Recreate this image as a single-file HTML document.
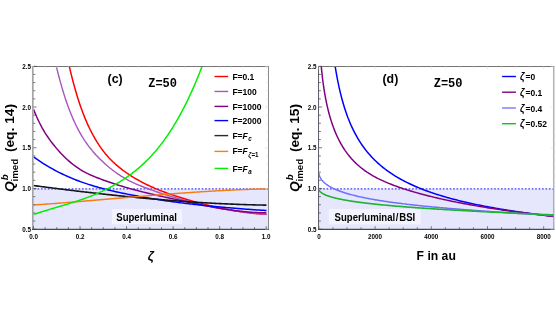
<!DOCTYPE html>
<html><head><meta charset="utf-8"><title>plot</title>
<style>
html,body{margin:0;padding:0;background:#fff;}
body{width:556px;height:327px;overflow:hidden;}
svg{display:block;will-change:transform;}
text{font-family:"Liberation Sans",sans-serif;font-weight:bold;fill:#000;}
.bi{font-style:italic;}
.sub{font-style:italic;font-size:7px;}
.subn{font-size:7px;}
.zl{font-style:italic;font-size:10.5px;}
.mono{font-family:"Liberation Mono",monospace;}
</style></head><body>
<svg width="556" height="327" viewBox="0 0 556 327">
<rect width="556" height="327" fill="#fff"/>
<!-- LEFT PANEL -->
<g fill="none">
<rect x="33.30" y="188.90" width="235.00" height="40.30" fill="#e6e6fd"/><path d="M34.10,188.90 H268.30" stroke="#7272f6" stroke-width="1.8" stroke-dasharray="1.7 1.72"/>
<clipPath id="cl"><rect x="33.3" y="66.3" width="235.0" height="162.89999999999998"/></clipPath>
<g clip-path="url(#cl)" stroke-linejoin="round" fill="none">
<path d="M69.40,66.85 L70.64,72.06 L71.88,77.04 L73.12,81.82 L74.36,86.39 L75.60,90.76 L76.84,94.94 L78.08,98.93 L79.32,102.75 L80.56,106.39 L81.80,109.87 L83.04,113.20 L84.28,116.37 L85.52,119.40 L86.75,122.30 L87.99,125.07 L89.23,127.71 L90.47,130.25 L91.71,132.67 L92.95,134.99 L94.19,137.22 L95.43,139.36 L96.67,141.42 L97.91,143.39 L99.15,145.29 L100.39,147.11 L101.63,148.86 L102.87,150.54 L104.11,152.15 L105.35,153.69 L106.59,155.17 L107.83,156.60 L109.07,157.96 L110.31,159.28 L111.55,160.54 L112.79,161.75 L114.03,162.92 L115.27,164.05 L116.51,165.14 L117.75,166.19 L118.98,167.20 L120.22,168.19 L121.46,169.14 L122.70,170.07 L123.94,170.98 L125.18,171.87 L126.42,172.74 L127.66,173.59 L128.90,174.42 L130.14,175.23 L131.38,176.03 L132.62,176.81 L133.86,177.57 L135.10,178.32 L136.34,179.05 L137.58,179.76 L138.82,180.46 L140.06,181.15 L141.30,181.82 L142.54,182.47 L143.78,183.12 L145.02,183.75 L146.26,184.36 L147.50,184.96 L148.74,185.55 L149.98,186.13 L151.22,186.70 L152.45,187.25 L153.69,187.80 L154.93,188.33 L156.17,188.85 L157.41,189.37 L158.65,189.87 L159.89,190.37 L161.13,190.85 L162.37,191.33 L163.61,191.80 L164.85,192.26 L166.09,192.71 L167.33,193.16 L168.57,193.59 L169.81,194.03 L171.05,194.45 L172.29,194.87 L173.53,195.29 L174.77,195.70 L176.01,196.10 L177.25,196.51 L178.49,196.90 L179.73,197.30 L180.97,197.69 L182.21,198.07 L183.45,198.45 L184.68,198.83 L185.92,199.21 L187.16,199.58 L188.40,199.95 L189.64,200.31 L190.88,200.68 L192.12,201.03 L193.36,201.39 L194.60,201.74 L195.84,202.08 L197.08,202.42 L198.32,202.76 L199.56,203.09 L200.80,203.42 L202.04,203.75 L203.28,204.07 L204.52,204.39 L205.76,204.70 L207.00,205.01 L208.24,205.32 L209.48,205.62 L210.72,205.92 L211.96,206.21 L213.20,206.50 L214.44,206.78 L215.68,207.06 L216.92,207.34 L218.15,207.61 L219.39,207.88 L220.63,208.14 L221.87,208.40 L223.11,208.65 L224.35,208.90 L225.59,209.14 L226.83,209.38 L228.07,209.61 L229.31,209.84 L230.55,210.07 L231.79,210.29 L233.03,210.51 L234.27,210.72 L235.51,210.92 L236.75,211.12 L237.99,211.32 L239.23,211.51 L240.47,211.70 L241.71,211.88 L242.95,212.05 L244.19,212.22 L245.43,212.39 L246.67,212.55 L247.91,212.71 L249.15,212.86 L250.38,213.00 L251.62,213.14 L252.86,213.28 L254.10,213.40 L255.34,213.53 L256.58,213.65 L257.82,213.76 L259.06,213.87 L260.30,213.97 L261.54,214.07 L262.78,214.16 L264.02,214.24 L265.26,214.32 L266.50,214.40" stroke="#ff0000" stroke-width="1.5"/>
<path d="M56.30,66.32 L57.62,71.67 L58.94,76.79 L60.27,81.68 L61.59,86.36 L62.91,90.82 L64.23,95.09 L65.55,99.16 L66.88,103.03 L68.20,106.73 L69.52,110.26 L70.84,113.61 L72.16,116.81 L73.49,119.85 L74.81,122.75 L76.13,125.51 L77.45,128.14 L78.77,130.65 L80.10,133.04 L81.42,135.32 L82.74,137.50 L84.06,139.59 L85.38,141.58 L86.71,143.49 L88.03,145.32 L89.35,147.07 L90.67,148.76 L91.99,150.38 L93.32,151.94 L94.64,153.45 L95.96,154.91 L97.28,156.33 L98.60,157.71 L99.93,159.05 L101.25,160.35 L102.57,161.62 L103.89,162.85 L105.21,164.05 L106.54,165.21 L107.86,166.34 L109.18,167.44 L110.50,168.51 L111.82,169.55 L113.15,170.56 L114.47,171.54 L115.79,172.50 L117.11,173.42 L118.43,174.32 L119.76,175.20 L121.08,176.05 L122.40,176.87 L123.72,177.66 L125.04,178.44 L126.37,179.18 L127.69,179.90 L129.01,180.60 L130.33,181.28 L131.65,181.93 L132.98,182.56 L134.30,183.17 L135.62,183.77 L136.94,184.35 L138.26,184.91 L139.59,185.45 L140.91,185.99 L142.23,186.51 L143.55,187.02 L144.87,187.53 L146.20,188.02 L147.52,188.52 L148.84,189.00 L150.16,189.48 L151.48,189.96 L152.81,190.43 L154.13,190.90 L155.45,191.36 L156.77,191.82 L158.09,192.27 L159.42,192.72 L160.74,193.16 L162.06,193.60 L163.38,194.04 L164.71,194.47 L166.03,194.89 L167.35,195.31 L168.67,195.73 L169.99,196.14 L171.32,196.55 L172.64,196.95 L173.96,197.35 L175.28,197.75 L176.60,198.13 L177.93,198.52 L179.25,198.90 L180.57,199.28 L181.89,199.65 L183.21,200.01 L184.54,200.38 L185.86,200.73 L187.18,201.09 L188.50,201.44 L189.82,201.78 L191.15,202.12 L192.47,202.45 L193.79,202.79 L195.11,203.11 L196.43,203.43 L197.76,203.75 L199.08,204.06 L200.40,204.37 L201.72,204.68 L203.04,204.98 L204.37,205.27 L205.69,205.56 L207.01,205.85 L208.33,206.13 L209.65,206.41 L210.98,206.68 L212.30,206.95 L213.62,207.21 L214.94,207.47 L216.26,207.73 L217.59,207.98 L218.91,208.23 L220.23,208.47 L221.55,208.71 L222.87,208.94 L224.20,209.17 L225.52,209.39 L226.84,209.61 L228.16,209.83 L229.48,210.04 L230.81,210.25 L232.13,210.45 L233.45,210.65 L234.77,210.84 L236.09,211.03 L237.42,211.22 L238.74,211.40 L240.06,211.58 L241.38,211.75 L242.70,211.92 L244.03,212.08 L245.35,212.24 L246.67,212.40 L247.99,212.55 L249.31,212.70 L250.64,212.84 L251.96,212.98 L253.28,213.11 L254.60,213.24 L255.92,213.37 L257.25,213.49 L258.57,213.61 L259.89,213.72 L261.21,213.83 L262.53,213.93 L263.86,214.04 L265.18,214.13 L266.50,214.22" stroke="#a855c0" stroke-width="1.4"/>
<path d="M33.50,109.21 L34.97,112.85 L36.43,116.27 L37.90,119.49 L39.36,122.53 L40.83,125.39 L42.29,128.08 L43.76,130.63 L45.22,133.04 L46.69,135.33 L48.15,137.51 L49.62,139.58 L51.08,141.57 L52.55,143.49 L54.02,145.34 L55.48,147.14 L56.95,148.88 L58.41,150.56 L59.88,152.19 L61.34,153.77 L62.81,155.29 L64.27,156.76 L65.74,158.18 L67.20,159.55 L68.67,160.86 L70.14,162.13 L71.60,163.34 L73.07,164.51 L74.53,165.63 L76.00,166.70 L77.46,167.72 L78.93,168.70 L80.39,169.63 L81.86,170.52 L83.32,171.36 L84.79,172.16 L86.25,172.92 L87.72,173.64 L89.19,174.33 L90.65,174.99 L92.12,175.63 L93.58,176.24 L95.05,176.84 L96.51,177.43 L97.98,178.01 L99.44,178.57 L100.91,179.13 L102.37,179.68 L103.84,180.22 L105.31,180.75 L106.77,181.28 L108.24,181.79 L109.70,182.30 L111.17,182.80 L112.63,183.29 L114.10,183.77 L115.56,184.25 L117.03,184.72 L118.49,185.18 L119.96,185.64 L121.42,186.09 L122.89,186.53 L124.36,186.96 L125.82,187.39 L127.29,187.81 L128.75,188.23 L130.22,188.64 L131.68,189.05 L133.15,189.45 L134.61,189.84 L136.08,190.23 L137.54,190.62 L139.01,191.00 L140.47,191.37 L141.94,191.74 L143.41,192.11 L144.87,192.47 L146.34,192.83 L147.80,193.18 L149.27,193.53 L150.73,193.88 L152.20,194.22 L153.66,194.57 L155.13,194.90 L156.59,195.24 L158.06,195.57 L159.53,195.90 L160.99,196.23 L162.46,196.56 L163.92,196.88 L165.39,197.20 L166.85,197.52 L168.32,197.84 L169.78,198.16 L171.25,198.48 L172.71,198.79 L174.18,199.11 L175.64,199.42 L177.11,199.74 L178.58,200.05 L180.04,200.36 L181.51,200.68 L182.97,200.99 L184.44,201.30 L185.90,201.61 L187.37,201.93 L188.83,202.24 L190.30,202.55 L191.76,202.85 L193.23,203.16 L194.69,203.46 L196.16,203.77 L197.63,204.07 L199.09,204.37 L200.56,204.66 L202.02,204.96 L203.49,205.25 L204.95,205.54 L206.42,205.82 L207.88,206.11 L209.35,206.38 L210.81,206.66 L212.28,206.93 L213.75,207.20 L215.21,207.46 L216.68,207.72 L218.14,207.98 L219.61,208.23 L221.07,208.48 L222.54,208.72 L224.00,208.96 L225.47,209.19 L226.93,209.41 L228.40,209.63 L229.86,209.85 L231.33,210.06 L232.80,210.26 L234.26,210.46 L235.73,210.65 L237.19,210.83 L238.66,211.01 L240.12,211.18 L241.59,211.34 L243.05,211.50 L244.52,211.65 L245.98,211.79 L247.45,211.92 L248.92,212.05 L250.38,212.17 L251.85,212.28 L253.31,212.38 L254.78,212.47 L256.24,212.55 L257.71,212.63 L259.17,212.70 L260.64,212.75 L262.10,212.80 L263.57,212.84 L265.03,212.87 L266.50,212.88" stroke="#800080" stroke-width="1.5"/>
<path d="M33.50,156.85 L34.97,157.90 L36.43,158.93 L37.90,159.94 L39.36,160.93 L40.83,161.89 L42.29,162.84 L43.76,163.77 L45.22,164.68 L46.69,165.58 L48.15,166.45 L49.62,167.31 L51.08,168.15 L52.55,168.97 L54.02,169.77 L55.48,170.56 L56.95,171.33 L58.41,172.08 L59.88,172.82 L61.34,173.54 L62.81,174.25 L64.27,174.94 L65.74,175.61 L67.20,176.27 L68.67,176.92 L70.14,177.55 L71.60,178.17 L73.07,178.78 L74.53,179.37 L76.00,179.95 L77.46,180.52 L78.93,181.07 L80.39,181.61 L81.86,182.14 L83.32,182.66 L84.79,183.16 L86.25,183.66 L87.72,184.14 L89.19,184.62 L90.65,185.08 L92.12,185.53 L93.58,185.98 L95.05,186.41 L96.51,186.84 L97.98,187.25 L99.44,187.66 L100.91,188.06 L102.37,188.45 L103.84,188.83 L105.31,189.21 L106.77,189.58 L108.24,189.94 L109.70,190.30 L111.17,190.64 L112.63,190.99 L114.10,191.32 L115.56,191.65 L117.03,191.98 L118.49,192.30 L119.96,192.62 L121.42,192.93 L122.89,193.23 L124.36,193.54 L125.82,193.84 L127.29,194.13 L128.75,194.43 L130.22,194.71 L131.68,195.00 L133.15,195.28 L134.61,195.56 L136.08,195.84 L137.54,196.11 L139.01,196.38 L140.47,196.64 L141.94,196.91 L143.41,197.17 L144.87,197.42 L146.34,197.67 L147.80,197.92 L149.27,198.17 L150.73,198.41 L152.20,198.66 L153.66,198.89 L155.13,199.13 L156.59,199.36 L158.06,199.59 L159.53,199.81 L160.99,200.04 L162.46,200.26 L163.92,200.48 L165.39,200.69 L166.85,200.90 L168.32,201.11 L169.78,201.32 L171.25,201.52 L172.71,201.73 L174.18,201.92 L175.64,202.12 L177.11,202.31 L178.58,202.51 L180.04,202.70 L181.51,202.88 L182.97,203.07 L184.44,203.25 L185.90,203.43 L187.37,203.60 L188.83,203.78 L190.30,203.95 L191.76,204.12 L193.23,204.29 L194.69,204.46 L196.16,204.62 L197.63,204.78 L199.09,204.94 L200.56,205.10 L202.02,205.26 L203.49,205.41 L204.95,205.56 L206.42,205.71 L207.88,205.86 L209.35,206.01 L210.81,206.15 L212.28,206.29 L213.75,206.43 L215.21,206.57 L216.68,206.71 L218.14,206.85 L219.61,206.98 L221.07,207.11 L222.54,207.24 L224.00,207.37 L225.47,207.50 L226.93,207.63 L228.40,207.75 L229.86,207.87 L231.33,207.99 L232.80,208.12 L234.26,208.23 L235.73,208.35 L237.19,208.47 L238.66,208.58 L240.12,208.70 L241.59,208.81 L243.05,208.92 L244.52,209.03 L245.98,209.14 L247.45,209.25 L248.92,209.36 L250.38,209.46 L251.85,209.57 L253.31,209.67 L254.78,209.77 L256.24,209.88 L257.71,209.98 L259.17,210.08 L260.64,210.18 L262.10,210.28 L263.57,210.37 L265.03,210.47 L266.50,210.57" stroke="#0000ff" stroke-width="1.5"/>
<path d="M33.50,185.51 L34.97,185.71 L36.43,185.90 L37.90,186.09 L39.36,186.29 L40.83,186.48 L42.29,186.67 L43.76,186.87 L45.22,187.06 L46.69,187.25 L48.15,187.44 L49.62,187.63 L51.08,187.82 L52.55,188.01 L54.02,188.19 L55.48,188.38 L56.95,188.57 L58.41,188.75 L59.88,188.94 L61.34,189.12 L62.81,189.30 L64.27,189.49 L65.74,189.67 L67.20,189.85 L68.67,190.03 L70.14,190.21 L71.60,190.39 L73.07,190.57 L74.53,190.75 L76.00,190.92 L77.46,191.10 L78.93,191.27 L80.39,191.45 L81.86,191.62 L83.32,191.79 L84.79,191.97 L86.25,192.14 L87.72,192.31 L89.19,192.48 L90.65,192.65 L92.12,192.82 L93.58,192.98 L95.05,193.15 L96.51,193.31 L97.98,193.48 L99.44,193.64 L100.91,193.81 L102.37,193.97 L103.84,194.13 L105.31,194.29 L106.77,194.45 L108.24,194.61 L109.70,194.77 L111.17,194.92 L112.63,195.08 L114.10,195.23 L115.56,195.39 L117.03,195.54 L118.49,195.69 L119.96,195.84 L121.42,195.99 L122.89,196.14 L124.36,196.29 L125.82,196.44 L127.29,196.59 L128.75,196.73 L130.22,196.88 L131.68,197.02 L133.15,197.16 L134.61,197.30 L136.08,197.44 L137.54,197.58 L139.01,197.72 L140.47,197.86 L141.94,197.99 L143.41,198.13 L144.87,198.26 L146.34,198.40 L147.80,198.53 L149.27,198.66 L150.73,198.79 L152.20,198.92 L153.66,199.05 L155.13,199.17 L156.59,199.30 L158.06,199.42 L159.53,199.55 L160.99,199.67 L162.46,199.79 L163.92,199.91 L165.39,200.03 L166.85,200.15 L168.32,200.27 L169.78,200.38 L171.25,200.49 L172.71,200.61 L174.18,200.72 L175.64,200.83 L177.11,200.94 L178.58,201.05 L180.04,201.16 L181.51,201.26 L182.97,201.37 L184.44,201.47 L185.90,201.57 L187.37,201.67 L188.83,201.77 L190.30,201.87 L191.76,201.97 L193.23,202.07 L194.69,202.16 L196.16,202.26 L197.63,202.35 L199.09,202.44 L200.56,202.53 L202.02,202.62 L203.49,202.71 L204.95,202.79 L206.42,202.88 L207.88,202.96 L209.35,203.04 L210.81,203.12 L212.28,203.20 L213.75,203.28 L215.21,203.36 L216.68,203.43 L218.14,203.51 L219.61,203.58 L221.07,203.65 L222.54,203.72 L224.00,203.79 L225.47,203.86 L226.93,203.92 L228.40,203.99 L229.86,204.05 L231.33,204.11 L232.80,204.17 L234.26,204.23 L235.73,204.29 L237.19,204.34 L238.66,204.40 L240.12,204.45 L241.59,204.50 L243.05,204.55 L244.52,204.60 L245.98,204.65 L247.45,204.69 L248.92,204.74 L250.38,204.78 L251.85,204.82 L253.31,204.86 L254.78,204.90 L256.24,204.94 L257.71,204.97 L259.17,205.00 L260.64,205.04 L262.10,205.07 L263.57,205.10 L265.03,205.12 L266.50,205.15" stroke="#151515" stroke-width="1.6"/>
<path d="M33.50,205.00 L34.97,204.90 L36.43,204.80 L37.90,204.70 L39.36,204.59 L40.83,204.49 L42.29,204.39 L43.76,204.28 L45.22,204.18 L46.69,204.07 L48.15,203.96 L49.62,203.85 L51.08,203.75 L52.55,203.64 L54.02,203.53 L55.48,203.41 L56.95,203.30 L58.41,203.19 L59.88,203.08 L61.34,202.96 L62.81,202.85 L64.27,202.73 L65.74,202.62 L67.20,202.50 L68.67,202.39 L70.14,202.27 L71.60,202.15 L73.07,202.03 L74.53,201.91 L76.00,201.79 L77.46,201.68 L78.93,201.56 L80.39,201.43 L81.86,201.31 L83.32,201.19 L84.79,201.07 L86.25,200.95 L87.72,200.83 L89.19,200.70 L90.65,200.58 L92.12,200.46 L93.58,200.33 L95.05,200.21 L96.51,200.09 L97.98,199.96 L99.44,199.84 L100.91,199.71 L102.37,199.59 L103.84,199.47 L105.31,199.34 L106.77,199.22 L108.24,199.09 L109.70,198.97 L111.17,198.84 L112.63,198.72 L114.10,198.59 L115.56,198.47 L117.03,198.34 L118.49,198.22 L119.96,198.09 L121.42,197.97 L122.89,197.84 L124.36,197.72 L125.82,197.59 L127.29,197.47 L128.75,197.34 L130.22,197.22 L131.68,197.10 L133.15,196.97 L134.61,196.85 L136.08,196.73 L137.54,196.60 L139.01,196.48 L140.47,196.36 L141.94,196.24 L143.41,196.11 L144.87,195.99 L146.34,195.87 L147.80,195.75 L149.27,195.63 L150.73,195.51 L152.20,195.39 L153.66,195.27 L155.13,195.16 L156.59,195.04 L158.06,194.92 L159.53,194.80 L160.99,194.69 L162.46,194.57 L163.92,194.46 L165.39,194.34 L166.85,194.23 L168.32,194.12 L169.78,194.00 L171.25,193.89 L172.71,193.78 L174.18,193.67 L175.64,193.56 L177.11,193.45 L178.58,193.34 L180.04,193.24 L181.51,193.13 L182.97,193.02 L184.44,192.92 L185.90,192.81 L187.37,192.71 L188.83,192.61 L190.30,192.51 L191.76,192.41 L193.23,192.31 L194.69,192.21 L196.16,192.11 L197.63,192.01 L199.09,191.92 L200.56,191.82 L202.02,191.73 L203.49,191.64 L204.95,191.54 L206.42,191.45 L207.88,191.36 L209.35,191.28 L210.81,191.19 L212.28,191.10 L213.75,191.02 L215.21,190.93 L216.68,190.85 L218.14,190.77 L219.61,190.69 L221.07,190.61 L222.54,190.54 L224.00,190.46 L225.47,190.38 L226.93,190.31 L228.40,190.24 L229.86,190.17 L231.33,190.10 L232.80,190.03 L234.26,189.96 L235.73,189.90 L237.19,189.84 L238.66,189.77 L240.12,189.71 L241.59,189.65 L243.05,189.60 L244.52,189.54 L245.98,189.49 L247.45,189.43 L248.92,189.38 L250.38,189.33 L251.85,189.28 L253.31,189.24 L254.78,189.19 L256.24,189.15 L257.71,189.11 L259.17,189.07 L260.64,189.03 L262.10,188.99 L263.57,188.96 L265.03,188.93 L266.50,188.90" stroke="#f87c10" stroke-width="1.45"/>
<path d="M33.50,214.49 L34.56,214.13 L35.62,213.78 L36.68,213.43 L37.74,213.08 L38.81,212.74 L39.87,212.40 L40.93,212.07 L41.99,211.73 L43.05,211.40 L44.11,211.08 L45.17,210.75 L46.23,210.43 L47.29,210.11 L48.35,209.79 L49.42,209.47 L50.48,209.15 L51.54,208.84 L52.60,208.52 L53.66,208.21 L54.72,207.89 L55.78,207.58 L56.84,207.27 L57.90,206.95 L58.96,206.64 L60.03,206.33 L61.09,206.01 L62.15,205.70 L63.21,205.38 L64.27,205.06 L65.33,204.75 L66.39,204.43 L67.45,204.10 L68.51,203.78 L69.57,203.45 L70.64,203.12 L71.70,202.79 L72.76,202.46 L73.82,202.12 L74.88,201.78 L75.94,201.44 L77.00,201.09 L78.06,200.74 L79.12,200.39 L80.18,200.03 L81.25,199.66 L82.31,199.30 L83.37,198.92 L84.43,198.54 L85.49,198.16 L86.55,197.77 L87.61,197.38 L88.67,196.98 L89.73,196.58 L90.79,196.17 L91.86,195.75 L92.92,195.32 L93.98,194.89 L95.04,194.46 L96.10,194.01 L97.16,193.56 L98.22,193.10 L99.28,192.63 L100.34,192.16 L101.40,191.67 L102.47,191.18 L103.53,190.68 L104.59,190.17 L105.65,189.66 L106.71,189.13 L107.77,188.60 L108.83,188.05 L109.89,187.50 L110.95,186.93 L112.01,186.36 L113.08,185.77 L114.14,185.18 L115.20,184.57 L116.26,183.96 L117.32,183.33 L118.38,182.69 L119.44,182.04 L120.50,181.38 L121.56,180.70 L122.62,180.02 L123.69,179.32 L124.75,178.61 L125.81,177.89 L126.87,177.15 L127.93,176.41 L128.99,175.65 L130.05,174.87 L131.11,174.08 L132.17,173.28 L133.23,172.46 L134.30,171.63 L135.36,170.79 L136.42,169.92 L137.48,169.04 L138.54,168.15 L139.60,167.23 L140.66,166.30 L141.72,165.35 L142.78,164.39 L143.84,163.40 L144.91,162.39 L145.97,161.37 L147.03,160.32 L148.09,159.25 L149.15,158.16 L150.21,157.05 L151.27,155.92 L152.33,154.76 L153.39,153.58 L154.45,152.38 L155.52,151.15 L156.58,149.90 L157.64,148.62 L158.70,147.31 L159.76,145.99 L160.82,144.63 L161.88,143.25 L162.94,141.84 L164.00,140.40 L165.06,138.93 L166.13,137.44 L167.19,135.91 L168.25,134.36 L169.31,132.77 L170.37,131.16 L171.43,129.51 L172.49,127.83 L173.55,126.12 L174.61,124.38 L175.67,122.60 L176.74,120.79 L177.80,118.95 L178.86,117.07 L179.92,115.16 L180.98,113.21 L182.04,111.23 L183.10,109.21 L184.16,107.15 L185.22,105.06 L186.28,102.92 L187.35,100.75 L188.41,98.55 L189.47,96.30 L190.53,94.01 L191.59,91.68 L192.65,89.32 L193.71,86.91 L194.77,84.46 L195.83,81.97 L196.89,79.43 L197.96,76.86 L199.02,74.24 L200.08,71.57 L201.14,68.86 L202.20,66.11" stroke="#00f000" stroke-width="1.5"/>
</g>
<path d="M31.95,66.5 H269.05" stroke="#747474" stroke-width="1.1"/><path d="M268.5,66.30 V229.80" stroke="#8a8a8e" stroke-width="1.05"/><path d="M32.8,66.00 V229.90" stroke="#a4a4a6" stroke-width="1.7"/><path d="M31.95,229.4 H269.05" stroke="#48485a" stroke-width="1.1"/>
<path d="M33.30,229.20 h3.2" stroke="#444" stroke-width="0.7"/><path d="M268.30,229.20 h-3.2" stroke="#d8d8dc" stroke-width="0.6"/><path d="M33.30,221.05 h2.0" stroke="#444" stroke-width="0.7"/><path d="M268.30,221.05 h-2.0" stroke="#d8d8dc" stroke-width="0.6"/><path d="M33.30,212.91 h2.0" stroke="#444" stroke-width="0.7"/><path d="M268.30,212.91 h-2.0" stroke="#d8d8dc" stroke-width="0.6"/><path d="M33.30,204.76 h2.0" stroke="#444" stroke-width="0.7"/><path d="M268.30,204.76 h-2.0" stroke="#d8d8dc" stroke-width="0.6"/><path d="M33.30,196.62 h2.0" stroke="#444" stroke-width="0.7"/><path d="M268.30,196.62 h-2.0" stroke="#d8d8dc" stroke-width="0.6"/><path d="M33.30,188.47 h3.2" stroke="#444" stroke-width="0.7"/><path d="M268.30,188.47 h-3.2" stroke="#d8d8dc" stroke-width="0.6"/><path d="M33.30,180.33 h2.0" stroke="#444" stroke-width="0.7"/><path d="M268.30,180.33 h-2.0" stroke="#d8d8dc" stroke-width="0.6"/><path d="M33.30,172.18 h2.0" stroke="#444" stroke-width="0.7"/><path d="M268.30,172.18 h-2.0" stroke="#d8d8dc" stroke-width="0.6"/><path d="M33.30,164.04 h2.0" stroke="#444" stroke-width="0.7"/><path d="M268.30,164.04 h-2.0" stroke="#d8d8dc" stroke-width="0.6"/><path d="M33.30,155.90 h2.0" stroke="#444" stroke-width="0.7"/><path d="M268.30,155.90 h-2.0" stroke="#d8d8dc" stroke-width="0.6"/><path d="M33.30,147.75 h3.2" stroke="#444" stroke-width="0.7"/><path d="M268.30,147.75 h-3.2" stroke="#d8d8dc" stroke-width="0.6"/><path d="M33.30,139.60 h2.0" stroke="#444" stroke-width="0.7"/><path d="M268.30,139.60 h-2.0" stroke="#d8d8dc" stroke-width="0.6"/><path d="M33.30,131.46 h2.0" stroke="#444" stroke-width="0.7"/><path d="M268.30,131.46 h-2.0" stroke="#d8d8dc" stroke-width="0.6"/><path d="M33.30,123.31 h2.0" stroke="#444" stroke-width="0.7"/><path d="M268.30,123.31 h-2.0" stroke="#d8d8dc" stroke-width="0.6"/><path d="M33.30,115.17 h2.0" stroke="#444" stroke-width="0.7"/><path d="M268.30,115.17 h-2.0" stroke="#d8d8dc" stroke-width="0.6"/><path d="M33.30,107.03 h3.2" stroke="#444" stroke-width="0.7"/><path d="M268.30,107.03 h-3.2" stroke="#d8d8dc" stroke-width="0.6"/><path d="M33.30,98.88 h2.0" stroke="#444" stroke-width="0.7"/><path d="M268.30,98.88 h-2.0" stroke="#d8d8dc" stroke-width="0.6"/><path d="M33.30,90.73 h2.0" stroke="#444" stroke-width="0.7"/><path d="M268.30,90.73 h-2.0" stroke="#d8d8dc" stroke-width="0.6"/><path d="M33.30,82.59 h2.0" stroke="#444" stroke-width="0.7"/><path d="M268.30,82.59 h-2.0" stroke="#d8d8dc" stroke-width="0.6"/><path d="M33.30,74.44 h2.0" stroke="#444" stroke-width="0.7"/><path d="M268.30,74.44 h-2.0" stroke="#d8d8dc" stroke-width="0.6"/><path d="M33.30,66.30 h3.2" stroke="#444" stroke-width="0.7"/><path d="M268.30,66.30 h-3.2" stroke="#d8d8dc" stroke-width="0.6"/><path d="M33.50,229.20 v-3.0" stroke="#444" stroke-width="0.7"/><path d="M33.50,66.30 v3.0" stroke="#d8d8dc" stroke-width="0.6"/><path d="M45.13,229.20 v-2.0" stroke="#444" stroke-width="0.7"/><path d="M45.13,66.30 v2.0" stroke="#d8d8dc" stroke-width="0.6"/><path d="M56.77,229.20 v-2.0" stroke="#444" stroke-width="0.7"/><path d="M56.77,66.30 v2.0" stroke="#d8d8dc" stroke-width="0.6"/><path d="M68.41,229.20 v-2.0" stroke="#444" stroke-width="0.7"/><path d="M68.41,66.30 v2.0" stroke="#d8d8dc" stroke-width="0.6"/><path d="M80.04,229.20 v-3.0" stroke="#444" stroke-width="0.7"/><path d="M80.04,66.30 v3.0" stroke="#d8d8dc" stroke-width="0.6"/><path d="M91.67,229.20 v-2.0" stroke="#444" stroke-width="0.7"/><path d="M91.67,66.30 v2.0" stroke="#d8d8dc" stroke-width="0.6"/><path d="M103.31,229.20 v-2.0" stroke="#444" stroke-width="0.7"/><path d="M103.31,66.30 v2.0" stroke="#d8d8dc" stroke-width="0.6"/><path d="M114.95,229.20 v-2.0" stroke="#444" stroke-width="0.7"/><path d="M114.95,66.30 v2.0" stroke="#d8d8dc" stroke-width="0.6"/><path d="M126.58,229.20 v-3.0" stroke="#444" stroke-width="0.7"/><path d="M126.58,66.30 v3.0" stroke="#d8d8dc" stroke-width="0.6"/><path d="M138.22,229.20 v-2.0" stroke="#444" stroke-width="0.7"/><path d="M138.22,66.30 v2.0" stroke="#d8d8dc" stroke-width="0.6"/><path d="M149.85,229.20 v-2.0" stroke="#444" stroke-width="0.7"/><path d="M149.85,66.30 v2.0" stroke="#d8d8dc" stroke-width="0.6"/><path d="M161.49,229.20 v-2.0" stroke="#444" stroke-width="0.7"/><path d="M161.49,66.30 v2.0" stroke="#d8d8dc" stroke-width="0.6"/><path d="M173.12,229.20 v-3.0" stroke="#444" stroke-width="0.7"/><path d="M173.12,66.30 v3.0" stroke="#d8d8dc" stroke-width="0.6"/><path d="M184.75,229.20 v-2.0" stroke="#444" stroke-width="0.7"/><path d="M184.75,66.30 v2.0" stroke="#d8d8dc" stroke-width="0.6"/><path d="M196.39,229.20 v-2.0" stroke="#444" stroke-width="0.7"/><path d="M196.39,66.30 v2.0" stroke="#d8d8dc" stroke-width="0.6"/><path d="M208.02,229.20 v-2.0" stroke="#444" stroke-width="0.7"/><path d="M208.02,66.30 v2.0" stroke="#d8d8dc" stroke-width="0.6"/><path d="M219.66,229.20 v-3.0" stroke="#444" stroke-width="0.7"/><path d="M219.66,66.30 v3.0" stroke="#d8d8dc" stroke-width="0.6"/><path d="M231.30,229.20 v-2.0" stroke="#444" stroke-width="0.7"/><path d="M231.30,66.30 v2.0" stroke="#d8d8dc" stroke-width="0.6"/><path d="M242.93,229.20 v-2.0" stroke="#444" stroke-width="0.7"/><path d="M242.93,66.30 v2.0" stroke="#d8d8dc" stroke-width="0.6"/><path d="M254.56,229.20 v-2.0" stroke="#444" stroke-width="0.7"/><path d="M254.56,66.30 v2.0" stroke="#d8d8dc" stroke-width="0.6"/><path d="M266.20,229.20 v-3.0" stroke="#444" stroke-width="0.7"/><path d="M266.20,66.30 v3.0" stroke="#d8d8dc" stroke-width="0.6"/>
</g>
<rect x="111.9" y="209" width="70.2" height="15.2" fill="#f3f3fd"/>
<text transform="translate(116.30,220.60) scale(0.862,1)" font-size="11.1" text-anchor="start" >Superluminal</text>
<text transform="translate(30.90,231.80) scale(0.875,1)" font-size="7.2" text-anchor="end" >0.5</text><text transform="translate(30.90,191.07) scale(0.875,1)" font-size="7.2" text-anchor="end" >1.0</text><text transform="translate(30.90,150.35) scale(0.875,1)" font-size="7.2" text-anchor="end" >1.5</text><text transform="translate(30.90,109.62) scale(0.875,1)" font-size="7.2" text-anchor="end" >2.0</text><text transform="translate(30.90,68.90) scale(0.875,1)" font-size="7.2" text-anchor="end" >2.5</text>
<text transform="translate(33.50,239.10) scale(0.875,1)" font-size="7.2" text-anchor="middle" >0.0</text><text transform="translate(80.04,239.10) scale(0.875,1)" font-size="7.2" text-anchor="middle" >0.2</text><text transform="translate(126.58,239.10) scale(0.875,1)" font-size="7.2" text-anchor="middle" >0.4</text><text transform="translate(173.12,239.10) scale(0.875,1)" font-size="7.2" text-anchor="middle" >0.6</text><text transform="translate(219.66,239.10) scale(0.875,1)" font-size="7.2" text-anchor="middle" >0.8</text><text transform="translate(266.20,239.10) scale(0.875,1)" font-size="7.2" text-anchor="middle" >1.0</text>
<text transform="translate(107.60,83.20) scale(0.98,1)" font-size="12.6" text-anchor="start" >(c)</text>
<text transform="translate(148.20,86.90) scale(1.0,1)" font-size="12" text-anchor="start" class="mono">Z=50</text>
<path d="M214.5,76.5 H228.2" stroke="#ff0000" stroke-width="1.4"/><text transform="translate(232.40,79.95) scale(0.895,1)" font-size="9.5" text-anchor="start" >F=0.1</text><path d="M214.5,91.45 H228.2" stroke="#a855c0" stroke-width="1.4"/><text transform="translate(232.40,94.85) scale(0.895,1)" font-size="9.5" text-anchor="start" >F=100</text><path d="M214.5,106.4 H228.2" stroke="#800080" stroke-width="1.4"/><text transform="translate(232.40,109.55) scale(0.895,1)" font-size="9.5" text-anchor="start" >F=1000</text><path d="M214.5,120.6 H228.2" stroke="#0000ff" stroke-width="1.4"/><text transform="translate(232.40,124.35) scale(0.895,1)" font-size="9.5" text-anchor="start" >F=2000</text><path d="M214.5,135.6 H228.2" stroke="#2a2a2a" stroke-width="1.4"/><text transform="translate(232.40,138.75) scale(0.895,1)" font-size="9.5" text-anchor="start" >F=<tspan class="bi">F</tspan><tspan class="sub" dx="0.7" dy="2">c</tspan></text><path d="M214.5,151.4 H228.2" stroke="#ff8000" stroke-width="1.4"/><text transform="translate(232.40,154.25) scale(0.895,1)" font-size="9.5" text-anchor="start" >F=<tspan class="bi">F</tspan><tspan class="sub" dx="0.7" dy="2.5">ζ</tspan><tspan class="subn">=1</tspan></text><path d="M214.5,168.4 H228.2" stroke="#00f000" stroke-width="1.4"/><text transform="translate(232.40,171.55) scale(0.895,1)" font-size="9.5" text-anchor="start" >F=<tspan class="bi">F</tspan><tspan class="sub" dx="0.7" dy="2">a</tspan></text>
<text transform="translate(150.90,260.00) scale(0.92,1)" font-size="13.6" text-anchor="middle" font-style="italic">ζ</text>
<g transform="translate(14.2,192) rotate(-90) scale(1.13,1)">
<text x="0" y="0" font-size="12.2" font-style="italic">Q</text>
<text x="9.3" y="3.7" font-size="8.6">imed</text>
<text x="10.4" y="-6.4" font-size="8.6" font-style="italic">b</text>
<text x="35.3" y="0" font-size="12.2">(eq. 14)</text>
</g>
<!-- RIGHT PANEL -->
<g fill="none">
<rect x="318.90" y="188.90" width="235.00" height="40.30" fill="#e6e6fd"/><path d="M319.70,188.90 H553.90" stroke="#7272f6" stroke-width="1.8" stroke-dasharray="1.7 1.72"/>
<clipPath id="cr"><rect x="318.9" y="66.3" width="235.0" height="162.89999999999998"/></clipPath>
<g clip-path="url(#cr)" stroke-linejoin="round" fill="none">
<path d="M334.64,63.07 L335.74,69.95 L336.84,76.19 L337.94,81.88 L339.05,87.10 L340.15,91.91 L341.25,96.35 L342.35,100.48 L343.45,104.33 L344.56,107.92 L345.66,111.29 L346.76,114.46 L347.86,117.45 L348.97,120.27 L350.07,122.94 L351.17,125.47 L352.27,127.88 L353.37,130.17 L354.48,132.35 L355.58,134.43 L356.68,136.43 L357.78,138.33 L358.89,140.16 L359.99,141.91 L361.09,143.59 L362.19,145.21 L363.29,146.77 L364.40,148.27 L365.50,149.72 L366.60,151.12 L367.70,152.46 L368.81,153.77 L369.91,155.03 L371.01,156.25 L372.11,157.44 L373.21,158.58 L374.32,159.70 L375.42,160.78 L376.52,161.83 L377.62,162.84 L378.73,163.84 L379.83,164.80 L380.93,165.74 L382.03,166.65 L383.14,167.54 L384.24,168.41 L385.34,169.25 L386.44,170.08 L387.54,170.88 L388.65,171.67 L389.75,172.44 L390.85,173.19 L391.95,173.92 L393.06,174.64 L394.16,175.34 L395.26,176.02 L396.36,176.69 L397.46,177.35 L398.57,177.99 L399.67,178.62 L400.77,179.24 L401.87,179.84 L402.98,180.43 L404.08,181.01 L405.18,181.58 L406.28,182.14 L407.38,182.69 L408.49,183.23 L409.59,183.76 L410.69,184.28 L411.79,184.79 L412.90,185.29 L414.00,185.78 L415.10,186.26 L416.20,186.74 L417.31,187.21 L418.41,187.66 L419.51,188.12 L420.61,188.56 L421.71,189.00 L422.82,189.43 L423.92,189.85 L425.02,190.27 L426.12,190.68 L427.23,191.08 L428.33,191.48 L429.43,191.87 L430.53,192.26 L431.63,192.64 L432.74,193.02 L433.84,193.39 L434.94,193.75 L436.04,194.11 L437.15,194.46 L438.25,194.81 L439.35,195.16 L440.45,195.50 L441.55,195.83 L442.66,196.16 L443.76,196.49 L444.86,196.81 L445.96,197.13 L447.07,197.44 L448.17,197.75 L449.27,198.06 L450.37,198.36 L451.47,198.66 L452.58,198.95 L453.68,199.24 L454.78,199.53 L455.88,199.81 L456.99,200.09 L458.09,200.37 L459.19,200.65 L460.29,200.92 L461.40,201.18 L462.50,201.45 L463.60,201.71 L464.70,201.97 L465.80,202.22 L466.91,202.48 L468.01,202.73 L469.11,202.97 L470.21,203.22 L471.32,203.46 L472.42,203.70 L473.52,203.93 L474.62,204.17 L475.72,204.40 L476.83,204.63 L477.93,204.86 L479.03,205.08 L480.13,205.30 L481.24,205.52 L482.34,205.74 L483.44,205.95 L484.54,206.17 L485.64,206.38 L486.75,206.59 L487.85,206.79 L488.95,207.00 L490.05,207.20 L491.16,207.40 L492.26,207.60 L493.36,207.80 L494.46,207.99 L495.57,208.19 L496.67,208.38 L497.77,208.57 L498.87,208.76 L499.97,208.94 L501.08,209.13 L502.18,209.31 L503.28,209.49 L504.38,209.67 L505.49,209.85 L506.59,210.03 L507.69,210.20 L508.79,210.38 L509.89,210.55 L511.00,210.72 L512.10,210.89 L513.20,211.06 L514.30,211.22 L515.41,211.39 L516.51,211.55 L517.61,211.71 L518.71,211.87 L519.81,212.03 L520.92,212.19 L522.02,212.35 L523.12,212.50 L524.22,212.66 L525.33,212.81 L526.43,212.96 L527.53,213.11 L528.63,213.26 L529.74,213.41 L530.84,213.56 L531.94,213.71 L533.04,213.85 L534.14,213.99 L535.25,214.14 L536.35,214.28 L537.45,214.42 L538.55,214.56 L539.66,214.70 L540.76,214.83 L541.86,214.97 L542.96,215.11 L544.06,215.24 L545.17,215.37 L546.27,215.51 L547.37,215.64 L548.47,215.77 L549.58,215.90 L550.68,216.03 L551.78,216.15 L552.88,216.28 L553.98,216.41" stroke="#0000ff" stroke-width="1.5"/>
<path d="M321.20,65.70 L321.42,68.03 L321.64,70.33 L321.88,72.61 L322.12,74.84 L322.37,77.05 L322.64,79.23 L322.91,81.38 L323.19,83.49 L323.49,85.58 L323.79,87.63 L324.10,89.66 L324.42,91.66 L324.75,93.63 L325.09,95.57 L325.44,97.48 L325.80,99.36 L326.17,101.21 L326.55,103.04 L326.94,104.84 L327.34,106.61 L327.75,108.36 L328.17,110.08 L328.59,111.77 L329.03,113.44 L329.48,115.08 L329.93,116.69 L330.40,118.28 L330.88,119.85 L331.36,121.39 L331.86,122.91 L332.36,124.40 L332.87,125.86 L333.40,127.31 L333.93,128.73 L334.48,130.13 L335.03,131.50 L335.59,132.85 L336.16,134.18 L336.74,135.49 L337.34,136.78 L337.94,138.04 L338.55,139.28 L339.17,140.50 L339.80,141.71 L340.44,142.89 L341.09,144.05 L341.75,145.19 L342.41,146.31 L343.09,147.41 L343.78,148.49 L344.48,149.55 L345.18,150.60 L345.90,151.62 L346.63,152.63 L347.36,153.62 L348.11,154.60 L348.87,155.55 L349.63,156.49 L350.40,157.41 L351.19,158.32 L351.98,159.21 L352.79,160.08 L353.60,160.94 L354.42,161.78 L355.25,162.60 L356.10,163.42 L356.95,164.21 L357.81,165.00 L358.68,165.77 L359.56,166.52 L360.45,167.26 L361.35,167.99 L362.26,168.71 L363.18,169.41 L364.11,170.10 L365.05,170.78 L366.00,171.44 L366.95,172.10 L367.92,172.74 L368.90,173.37 L369.88,173.99 L370.88,174.60 L371.89,175.20 L372.90,175.79 L373.93,176.37 L374.96,176.94 L376.01,177.50 L377.06,178.05 L378.12,178.60 L379.20,179.13 L380.28,179.66 L381.37,180.18 L382.48,180.69 L383.59,181.19 L384.71,181.69 L385.84,182.18 L386.98,182.66 L388.13,183.14 L389.29,183.61 L390.46,184.07 L391.64,184.53 L392.83,184.98 L394.03,185.43 L395.24,185.88 L396.46,186.31 L397.68,186.75 L398.92,187.18 L400.17,187.61 L401.43,188.03 L402.69,188.45 L403.97,188.87 L405.25,189.29 L406.55,189.70 L407.85,190.11 L409.17,190.51 L410.49,190.92 L411.83,191.32 L413.17,191.72 L414.52,192.11 L415.88,192.50 L417.26,192.89 L418.64,193.28 L420.03,193.67 L421.43,194.05 L422.84,194.43 L424.26,194.80 L425.69,195.18 L427.13,195.55 L428.58,195.92 L430.04,196.28 L431.51,196.64 L432.99,197.01 L434.48,197.36 L435.97,197.72 L437.48,198.07 L439.00,198.42 L440.52,198.77 L442.06,199.12 L443.61,199.46 L445.16,199.80 L446.73,200.14 L448.30,200.48 L449.89,200.82 L451.48,201.15 L453.08,201.48 L454.70,201.81 L456.32,202.13 L457.95,202.45 L459.60,202.78 L461.25,203.10 L462.91,203.41 L464.58,203.73 L466.26,204.04 L467.95,204.35 L469.65,204.66 L471.36,204.97 L473.08,205.27 L474.81,205.57 L476.55,205.87 L478.30,206.17 L480.05,206.47 L481.82,206.77 L483.60,207.06 L485.39,207.35 L487.18,207.64 L488.99,207.93 L490.80,208.21 L492.63,208.50 L494.47,208.78 L496.31,209.06 L498.16,209.34 L500.03,209.62 L501.90,209.89 L503.79,210.16 L505.68,210.44 L507.58,210.71 L509.49,210.98 L511.41,211.24 L513.35,211.51 L515.29,211.77 L517.24,212.04 L519.20,212.30 L521.17,212.56 L523.15,212.82 L525.14,213.07 L527.14,213.33 L529.14,213.58 L531.16,213.84 L533.19,214.09 L535.23,214.34 L537.28,214.59 L539.33,214.83 L541.40,215.08 L543.47,215.32 L545.56,215.57 L547.66,215.81 L549.76,216.05 L551.88,216.29 L554.00,216.53" stroke="#800080" stroke-width="1.5"/>
<path d="M319.00,173.41 L319.05,173.79 L319.12,174.16 L319.19,174.54 L319.28,174.91 L319.38,175.28 L319.49,175.65 L319.61,176.01 L319.75,176.37 L319.89,176.73 L320.05,177.09 L320.21,177.44 L320.39,177.79 L320.58,178.14 L320.78,178.49 L321.00,178.83 L321.22,179.18 L321.46,179.52 L321.70,179.85 L321.96,180.19 L322.23,180.52 L322.51,180.85 L322.81,181.18 L323.11,181.50 L323.43,181.82 L323.75,182.15 L324.09,182.46 L324.44,182.78 L324.80,183.09 L325.17,183.41 L325.56,183.71 L325.95,184.02 L326.36,184.33 L326.78,184.63 L327.21,184.93 L327.65,185.23 L328.10,185.52 L328.56,185.82 L329.04,186.11 L329.52,186.40 L330.02,186.69 L330.53,186.97 L331.05,187.26 L331.58,187.54 L332.12,187.82 L332.68,188.10 L333.24,188.37 L333.82,188.65 L334.41,188.92 L335.01,189.19 L335.62,189.45 L336.25,189.72 L336.88,189.98 L337.52,190.25 L338.18,190.51 L338.85,190.76 L339.53,191.02 L340.22,191.28 L340.92,191.53 L341.64,191.78 L342.36,192.03 L343.10,192.28 L343.85,192.52 L344.61,192.76 L345.38,193.01 L346.16,193.25 L346.95,193.49 L347.76,193.72 L348.58,193.96 L349.40,194.19 L350.24,194.42 L351.09,194.65 L351.96,194.88 L352.83,195.11 L353.71,195.33 L354.61,195.56 L355.52,195.78 L356.44,196.00 L357.37,196.22 L358.31,196.44 L359.26,196.65 L360.23,196.87 L361.20,197.08 L362.19,197.29 L363.19,197.50 L364.20,197.71 L365.22,197.92 L366.25,198.12 L367.30,198.33 L368.35,198.53 L369.42,198.73 L370.50,198.93 L371.59,199.13 L372.69,199.33 L373.80,199.52 L374.93,199.72 L376.06,199.91 L377.21,200.10 L378.37,200.29 L379.54,200.48 L380.72,200.67 L381.91,200.86 L383.11,201.05 L384.33,201.23 L385.55,201.41 L386.79,201.60 L388.04,201.78 L389.30,201.96 L390.57,202.14 L391.86,202.32 L393.15,202.49 L394.46,202.67 L395.78,202.84 L397.10,203.02 L398.44,203.19 L399.80,203.36 L401.16,203.53 L402.53,203.70 L403.92,203.87 L405.32,204.04 L406.73,204.20 L408.15,204.37 L409.58,204.53 L411.02,204.70 L412.47,204.86 L413.94,205.02 L415.42,205.18 L416.91,205.34 L418.41,205.50 L419.92,205.66 L421.44,205.82 L422.97,205.98 L424.52,206.13 L426.08,206.29 L427.64,206.44 L429.22,206.60 L430.81,206.75 L432.42,206.90 L434.03,207.06 L435.65,207.21 L437.29,207.36 L438.94,207.51 L440.60,207.66 L442.27,207.80 L443.95,207.95 L445.64,208.10 L447.35,208.25 L449.07,208.39 L450.79,208.54 L452.53,208.68 L454.28,208.83 L456.04,208.97 L457.82,209.11 L459.60,209.26 L461.40,209.40 L463.20,209.54 L465.02,209.68 L466.85,209.83 L468.69,209.97 L470.55,210.11 L472.41,210.25 L474.29,210.39 L476.17,210.53 L478.07,210.66 L479.98,210.80 L481.90,210.94 L483.84,211.08 L485.78,211.22 L487.74,211.35 L489.70,211.49 L491.68,211.63 L493.67,211.76 L495.67,211.90 L497.68,212.04 L499.71,212.17 L501.74,212.31 L503.79,212.44 L505.85,212.58 L507.92,212.71 L510.00,212.85 L512.09,212.99 L514.19,213.12 L516.31,213.26 L518.43,213.39 L520.57,213.52 L522.72,213.66 L524.88,213.79 L527.05,213.93 L529.23,214.06 L531.43,214.20 L533.63,214.33 L535.85,214.47 L538.08,214.60 L540.32,214.74 L542.57,214.87 L544.83,215.01 L547.11,215.14 L549.39,215.28 L551.69,215.41 L554.00,215.55" stroke="#7070fc" stroke-width="1.5"/>
<path d="M319.00,189.56 L319.05,189.76 L319.12,189.95 L319.19,190.14 L319.28,190.34 L319.38,190.53 L319.49,190.72 L319.61,190.91 L319.75,191.10 L319.89,191.28 L320.05,191.47 L320.21,191.65 L320.39,191.84 L320.58,192.02 L320.78,192.20 L321.00,192.38 L321.22,192.56 L321.46,192.74 L321.70,192.92 L321.96,193.10 L322.23,193.27 L322.51,193.45 L322.81,193.62 L323.11,193.79 L323.43,193.97 L323.75,194.14 L324.09,194.31 L324.44,194.48 L324.80,194.65 L325.17,194.81 L325.56,194.98 L325.95,195.15 L326.36,195.31 L326.78,195.47 L327.21,195.64 L327.65,195.80 L328.10,195.96 L328.56,196.12 L329.04,196.28 L329.52,196.44 L330.02,196.60 L330.53,196.75 L331.05,196.91 L331.58,197.06 L332.12,197.22 L332.68,197.37 L333.24,197.52 L333.82,197.68 L334.41,197.83 L335.01,197.98 L335.62,198.13 L336.25,198.28 L336.88,198.42 L337.52,198.57 L338.18,198.72 L338.85,198.86 L339.53,199.01 L340.22,199.15 L340.92,199.29 L341.64,199.44 L342.36,199.58 L343.10,199.72 L343.85,199.86 L344.61,200.00 L345.38,200.14 L346.16,200.28 L346.95,200.41 L347.76,200.55 L348.58,200.69 L349.40,200.82 L350.24,200.96 L351.09,201.09 L351.96,201.23 L352.83,201.36 L353.71,201.49 L354.61,201.62 L355.52,201.75 L356.44,201.88 L357.37,202.01 L358.31,202.14 L359.26,202.27 L360.23,202.40 L361.20,202.52 L362.19,202.65 L363.19,202.78 L364.20,202.90 L365.22,203.03 L366.25,203.15 L367.30,203.28 L368.35,203.40 L369.42,203.52 L370.50,203.64 L371.59,203.76 L372.69,203.89 L373.80,204.01 L374.93,204.13 L376.06,204.25 L377.21,204.36 L378.37,204.48 L379.54,204.60 L380.72,204.72 L381.91,204.83 L383.11,204.95 L384.33,205.07 L385.55,205.18 L386.79,205.30 L388.04,205.41 L389.30,205.53 L390.57,205.64 L391.86,205.75 L393.15,205.87 L394.46,205.98 L395.78,206.09 L397.10,206.20 L398.44,206.31 L399.80,206.42 L401.16,206.53 L402.53,206.64 L403.92,206.75 L405.32,206.86 L406.73,206.97 L408.15,207.08 L409.58,207.19 L411.02,207.30 L412.47,207.40 L413.94,207.51 L415.42,207.62 L416.91,207.72 L418.41,207.83 L419.92,207.94 L421.44,208.04 L422.97,208.15 L424.52,208.25 L426.08,208.36 L427.64,208.46 L429.22,208.56 L430.81,208.67 L432.42,208.77 L434.03,208.87 L435.65,208.98 L437.29,209.08 L438.94,209.18 L440.60,209.29 L442.27,209.39 L443.95,209.49 L445.64,209.59 L447.35,209.69 L449.07,209.79 L450.79,209.89 L452.53,210.00 L454.28,210.10 L456.04,210.20 L457.82,210.30 L459.60,210.40 L461.40,210.50 L463.20,210.60 L465.02,210.70 L466.85,210.80 L468.69,210.89 L470.55,210.99 L472.41,211.09 L474.29,211.19 L476.17,211.29 L478.07,211.39 L479.98,211.49 L481.90,211.59 L483.84,211.68 L485.78,211.78 L487.74,211.88 L489.70,211.98 L491.68,212.08 L493.67,212.18 L495.67,212.27 L497.68,212.37 L499.71,212.47 L501.74,212.57 L503.79,212.67 L505.85,212.76 L507.92,212.86 L510.00,212.96 L512.09,213.06 L514.19,213.16 L516.31,213.25 L518.43,213.35 L520.57,213.45 L522.72,213.55 L524.88,213.64 L527.05,213.74 L529.23,213.84 L531.43,213.94 L533.63,214.04 L535.85,214.14 L538.08,214.23 L540.32,214.33 L542.57,214.43 L544.83,214.53 L547.11,214.63 L549.39,214.73 L551.69,214.82 L554.00,214.92" stroke="#1cb430" stroke-width="1.6"/>
</g>
<path d="M318.05,66.5 H554.3499999999999" stroke="#747474" stroke-width="1.1"/><path d="M553.8,66.30 V229.80" stroke="#9494a8" stroke-width="1.1"/><path d="M318.55,66.00 V229.90" stroke="#5a5a62" stroke-width="1.0"/><path d="M318.05,229.4 H554.3499999999999" stroke="#48485a" stroke-width="1.1"/>
<path d="M318.90,229.20 h3.2" stroke="#444" stroke-width="0.7"/><path d="M553.90,229.20 h-3.2" stroke="#d8d8dc" stroke-width="0.6"/><path d="M318.90,221.05 h2.0" stroke="#444" stroke-width="0.7"/><path d="M553.90,221.05 h-2.0" stroke="#d8d8dc" stroke-width="0.6"/><path d="M318.90,212.91 h2.0" stroke="#444" stroke-width="0.7"/><path d="M553.90,212.91 h-2.0" stroke="#d8d8dc" stroke-width="0.6"/><path d="M318.90,204.76 h2.0" stroke="#444" stroke-width="0.7"/><path d="M553.90,204.76 h-2.0" stroke="#d8d8dc" stroke-width="0.6"/><path d="M318.90,196.62 h2.0" stroke="#444" stroke-width="0.7"/><path d="M553.90,196.62 h-2.0" stroke="#d8d8dc" stroke-width="0.6"/><path d="M318.90,188.47 h3.2" stroke="#444" stroke-width="0.7"/><path d="M553.90,188.47 h-3.2" stroke="#d8d8dc" stroke-width="0.6"/><path d="M318.90,180.33 h2.0" stroke="#444" stroke-width="0.7"/><path d="M553.90,180.33 h-2.0" stroke="#d8d8dc" stroke-width="0.6"/><path d="M318.90,172.18 h2.0" stroke="#444" stroke-width="0.7"/><path d="M553.90,172.18 h-2.0" stroke="#d8d8dc" stroke-width="0.6"/><path d="M318.90,164.04 h2.0" stroke="#444" stroke-width="0.7"/><path d="M553.90,164.04 h-2.0" stroke="#d8d8dc" stroke-width="0.6"/><path d="M318.90,155.90 h2.0" stroke="#444" stroke-width="0.7"/><path d="M553.90,155.90 h-2.0" stroke="#d8d8dc" stroke-width="0.6"/><path d="M318.90,147.75 h3.2" stroke="#444" stroke-width="0.7"/><path d="M553.90,147.75 h-3.2" stroke="#d8d8dc" stroke-width="0.6"/><path d="M318.90,139.60 h2.0" stroke="#444" stroke-width="0.7"/><path d="M553.90,139.60 h-2.0" stroke="#d8d8dc" stroke-width="0.6"/><path d="M318.90,131.46 h2.0" stroke="#444" stroke-width="0.7"/><path d="M553.90,131.46 h-2.0" stroke="#d8d8dc" stroke-width="0.6"/><path d="M318.90,123.31 h2.0" stroke="#444" stroke-width="0.7"/><path d="M553.90,123.31 h-2.0" stroke="#d8d8dc" stroke-width="0.6"/><path d="M318.90,115.17 h2.0" stroke="#444" stroke-width="0.7"/><path d="M553.90,115.17 h-2.0" stroke="#d8d8dc" stroke-width="0.6"/><path d="M318.90,107.03 h3.2" stroke="#444" stroke-width="0.7"/><path d="M553.90,107.03 h-3.2" stroke="#d8d8dc" stroke-width="0.6"/><path d="M318.90,98.88 h2.0" stroke="#444" stroke-width="0.7"/><path d="M553.90,98.88 h-2.0" stroke="#d8d8dc" stroke-width="0.6"/><path d="M318.90,90.73 h2.0" stroke="#444" stroke-width="0.7"/><path d="M553.90,90.73 h-2.0" stroke="#d8d8dc" stroke-width="0.6"/><path d="M318.90,82.59 h2.0" stroke="#444" stroke-width="0.7"/><path d="M553.90,82.59 h-2.0" stroke="#d8d8dc" stroke-width="0.6"/><path d="M318.90,74.44 h2.0" stroke="#444" stroke-width="0.7"/><path d="M553.90,74.44 h-2.0" stroke="#d8d8dc" stroke-width="0.6"/><path d="M318.90,66.30 h3.2" stroke="#444" stroke-width="0.7"/><path d="M553.90,66.30 h-3.2" stroke="#d8d8dc" stroke-width="0.6"/><path d="M318.90,229.20 v-3.0" stroke="#606078" stroke-width="0.8"/><path d="M318.90,66.30 v3.0" stroke="#d8d8dc" stroke-width="0.6"/><path d="M332.95,229.20 v-2.0" stroke="#606078" stroke-width="0.8"/><path d="M332.95,66.30 v2.0" stroke="#d8d8dc" stroke-width="0.6"/><path d="M347.00,229.20 v-2.0" stroke="#606078" stroke-width="0.8"/><path d="M347.00,66.30 v2.0" stroke="#d8d8dc" stroke-width="0.6"/><path d="M361.05,229.20 v-2.0" stroke="#606078" stroke-width="0.8"/><path d="M361.05,66.30 v2.0" stroke="#d8d8dc" stroke-width="0.6"/><path d="M375.10,229.20 v-3.0" stroke="#606078" stroke-width="0.8"/><path d="M375.10,66.30 v3.0" stroke="#d8d8dc" stroke-width="0.6"/><path d="M389.15,229.20 v-2.0" stroke="#606078" stroke-width="0.8"/><path d="M389.15,66.30 v2.0" stroke="#d8d8dc" stroke-width="0.6"/><path d="M403.20,229.20 v-2.0" stroke="#606078" stroke-width="0.8"/><path d="M403.20,66.30 v2.0" stroke="#d8d8dc" stroke-width="0.6"/><path d="M417.25,229.20 v-2.0" stroke="#606078" stroke-width="0.8"/><path d="M417.25,66.30 v2.0" stroke="#d8d8dc" stroke-width="0.6"/><path d="M431.30,229.20 v-3.0" stroke="#606078" stroke-width="0.8"/><path d="M431.30,66.30 v3.0" stroke="#d8d8dc" stroke-width="0.6"/><path d="M445.35,229.20 v-2.0" stroke="#606078" stroke-width="0.8"/><path d="M445.35,66.30 v2.0" stroke="#d8d8dc" stroke-width="0.6"/><path d="M459.40,229.20 v-2.0" stroke="#606078" stroke-width="0.8"/><path d="M459.40,66.30 v2.0" stroke="#d8d8dc" stroke-width="0.6"/><path d="M473.45,229.20 v-2.0" stroke="#606078" stroke-width="0.8"/><path d="M473.45,66.30 v2.0" stroke="#d8d8dc" stroke-width="0.6"/><path d="M487.50,229.20 v-3.0" stroke="#606078" stroke-width="0.8"/><path d="M487.50,66.30 v3.0" stroke="#d8d8dc" stroke-width="0.6"/><path d="M501.55,229.20 v-2.0" stroke="#606078" stroke-width="0.8"/><path d="M501.55,66.30 v2.0" stroke="#d8d8dc" stroke-width="0.6"/><path d="M515.60,229.20 v-2.0" stroke="#606078" stroke-width="0.8"/><path d="M515.60,66.30 v2.0" stroke="#d8d8dc" stroke-width="0.6"/><path d="M529.65,229.20 v-2.0" stroke="#606078" stroke-width="0.8"/><path d="M529.65,66.30 v2.0" stroke="#d8d8dc" stroke-width="0.6"/><path d="M543.70,229.20 v-3.0" stroke="#606078" stroke-width="0.8"/><path d="M543.70,66.30 v3.0" stroke="#d8d8dc" stroke-width="0.6"/>
</g>
<rect x="328.8" y="209" width="92" height="15.4" fill="#f3f3fd"/>
<text transform="translate(334.60,220.60) scale(0.862,1)" font-size="11.1" text-anchor="start" >Superluminal<tspan dx="0.8">/</tspan><tspan dx="0.8">BSI</tspan></text>
<text transform="translate(316.50,231.80) scale(0.875,1)" font-size="7.2" text-anchor="end" >0.5</text><text transform="translate(316.50,191.07) scale(0.875,1)" font-size="7.2" text-anchor="end" >1.0</text><text transform="translate(316.50,150.35) scale(0.875,1)" font-size="7.2" text-anchor="end" >1.5</text><text transform="translate(316.50,109.62) scale(0.875,1)" font-size="7.2" text-anchor="end" >2.0</text><text transform="translate(316.50,68.90) scale(0.875,1)" font-size="7.2" text-anchor="end" >2.5</text>
<text transform="translate(318.90,239.10) scale(0.875,1)" font-size="7.2" text-anchor="middle" >0</text><text transform="translate(375.10,239.10) scale(0.875,1)" font-size="7.2" text-anchor="middle" >2000</text><text transform="translate(431.30,239.10) scale(0.875,1)" font-size="7.2" text-anchor="middle" >4000</text><text transform="translate(487.50,239.10) scale(0.875,1)" font-size="7.2" text-anchor="middle" >6000</text><text transform="translate(543.70,239.10) scale(0.875,1)" font-size="7.2" text-anchor="middle" >8000</text>
<text transform="translate(382.50,83.30) scale(0.98,1)" font-size="12.6" text-anchor="start" >(d)</text>
<text transform="translate(433.70,87.10) scale(1.0,1)" font-size="12" text-anchor="start" class="mono">Z=50</text>
<path d="M502.1,76.5 H515.9" stroke="#0000ff" stroke-width="1.4"/><text transform="translate(519.90,80.00) scale(0.885,1)" font-size="9.6" text-anchor="start" ><tspan class="zl">ζ</tspan><tspan dx="1.2">=0</tspan></text><path d="M502.1,92.2 H515.9" stroke="#800080" stroke-width="1.4"/><text transform="translate(519.90,95.70) scale(0.885,1)" font-size="9.6" text-anchor="start" ><tspan class="zl">ζ</tspan><tspan dx="1.2">=0.1</tspan></text><path d="M502.1,108 H515.9" stroke="#7878ff" stroke-width="1.4"/><text transform="translate(519.90,111.50) scale(0.885,1)" font-size="9.6" text-anchor="start" ><tspan class="zl">ζ</tspan><tspan dx="1.2">=0.4</tspan></text><path d="M502.1,123.7 H515.9" stroke="#00d000" stroke-width="1.4"/><text transform="translate(519.90,127.20) scale(0.885,1)" font-size="9.6" text-anchor="start" ><tspan class="zl">ζ</tspan><tspan dx="1.2">=0.52</tspan></text>
<text transform="translate(436.20,259.50) scale(0.91,1)" font-size="13.4" text-anchor="middle" >F in au</text>
<g transform="translate(299.3,192) rotate(-90) scale(1.13,1)">
<text x="0" y="0" font-size="12.2" font-style="italic">Q</text>
<text x="9.3" y="3.7" font-size="8.6">imed</text>
<text x="10.4" y="-6.4" font-size="8.6" font-style="italic">b</text>
<text x="35.3" y="0" font-size="12.2">(eq. 15)</text>
</g>
</svg>
</body></html>
